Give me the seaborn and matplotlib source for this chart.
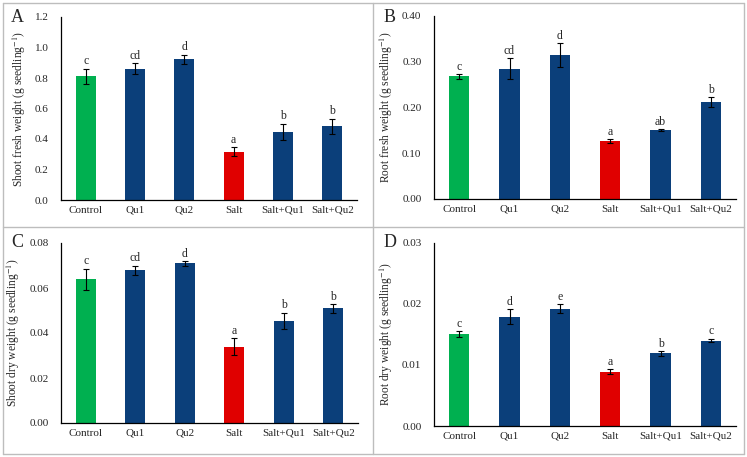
import numpy as np
import pandas as pd
import matplotlib
matplotlib.use("Agg")
import matplotlib.pyplot as plt
from matplotlib.lines import Line2D
import seaborn as sns

treatments = ["Control", "Qu1", "Qu2", "Salt", "Salt+Qu1", "Salt+Qu2"]

shoot_fw = [0.81, 0.862, 0.922, 0.318, 0.448, 0.485]
shoot_fw_err = [0.050, 0.036, 0.031, 0.028, 0.052, 0.049]
shoot_fw_lab = ["c", "cd", "d", "a", "b", "b"]

root_fw = [0.268, 0.285, 0.314, 0.126, 0.150, 0.211]
root_fw_err = [0.0047, 0.0225, 0.0265, 0.0044, 0.002, 0.011]
root_fw_lab = ["c", "cd", "d", "a", "ab", "b"]

shoot_dw = [0.0639, 0.0680, 0.0710, 0.0339, 0.0455, 0.0509]
shoot_dw_err = [0.0046, 0.0020, 0.0010, 0.0038, 0.0035, 0.0018]
shoot_dw_lab = ["c", "cd", "d", "a", "b", "b"]

root_dw = [0.0151, 0.01795, 0.01925, 0.0089, 0.0119, 0.0140]
root_dw_err = [0.00044, 0.0012, 0.0007, 0.0004, 0.0004, 0.0003]
root_dw_lab = ["c", "d", "e", "a", "b", "c"]

colors = ["#00B050", "#0B3F7A", "#0B3F7A", "#E00000", "#0B3F7A", "#0B3F7A"]

sns.set_style("white")
plt.rcParams["font.family"] = ["Liberation Serif", "DejaVu Serif"]
plt.rcParams["mathtext.fontset"] = "stix"

W, H = 747, 457
fig = plt.figure(figsize=(W / 100, H / 100), dpi=100)


def px_axes(left, right, top, bottom):
    return fig.add_axes([left / W, (H - bottom) / H, (right - left) / W, (bottom - top) / H])


panels = [
    ("A", px_axes(61, 357, 17, 200), shoot_fw, shoot_fw_err, shoot_fw_lab,
     "Shoot fresh weight (g seedling$^{-1}$)", 1.2, 0.2, "{:.1f}", (17, 18)),
    ("B", px_axes(434, 736, 16, 199), root_fw, root_fw_err, root_fw_lab,
     "Root fresh weight (g seedling$^{-1}$)", 0.40, 0.10, "{:.2f}", (390, 17)),
    ("C", px_axes(61, 358, 243, 423), shoot_dw, shoot_dw_err, shoot_dw_lab,
     "Shoot dry weight (g seedling$^{-1}$)", 0.08, 0.02, "{:.2f}", (17, 243)),
    ("D", px_axes(434, 736, 243, 426), root_dw, root_dw_err, root_dw_lab,
     "Root dry weight (g seedling$^{-1}$)", 0.03, 0.01, "{:.2f}", (390, 243)),
]

for letter, ax, vals, errs, labs, ylabel, ymax, step, fmt, pos in panels:
    df = pd.DataFrame({"treatment": treatments, "value": vals})
    sns.barplot(data=df, x="treatment", y="value", hue="treatment",
                palette=colors, width=0.4, legend=False, ax=ax,
                saturation=1, linewidth=0)
    ax.errorbar(np.arange(len(vals)), vals, yerr=errs, fmt="none",
                ecolor="black", elinewidth=0.8, capsize=2, capthick=0.8)
    for i, (v, e, t) in enumerate(zip(vals, errs, labs)):
        ax.annotate(t, (i, v + e), xytext=(0, 1), textcoords="offset points",
                    ha="center", va="bottom", fontsize=8.5)
    ax.set_xlim(-0.5, 5.5)
    ax.set_ylim(0, ymax)
    yt = np.arange(0, ymax + step / 2, step)
    ax.set_yticks(yt)
    ax.set_yticklabels([fmt.format(t) for t in yt], fontsize=8)
    ax.set_xticks(np.arange(-0.5, 6, 1.0))
    ax.set_xticklabels([])
    ax.set_xticks(np.arange(6), minor=True)
    ax.set_xticklabels(treatments, minor=True, fontsize=8)
    ax.tick_params(axis="x", which="major", direction="out", length=3, width=0.8, color="black")
    ax.tick_params(axis="x", which="minor", length=0, pad=4)
    ax.tick_params(axis="y", direction="out", length=3, width=0.8, color="black", pad=6)
    ax.set_xlabel("")
    ax.set_ylabel(ylabel, fontsize=8.3, labelpad=5)
    for s in ["top", "right"]:
        ax.spines[s].set_visible(False)
    for s in ["left", "bottom"]:
        ax.spines[s].set_color("black")
        ax.spines[s].set_linewidth(0.9)
    fig.text(pos[0] / W, 1 - pos[1] / H, letter, fontsize=13, ha="center", va="center")

# panel frames
gray = "#BDBDBD"
for xs, ys in [((3, 744), (3, 3)), ((3, 744), (454, 454)), ((3, 3), (3, 454)),
               ((744, 744), (3, 454)), ((373, 373), (3, 454)), ((3, 744), (227, 227))]:
    fig.add_artist(Line2D([x / W for x in xs], [1 - y / H for y in ys],
                          color=gray, linewidth=1.0))

fig.savefig("out.png", dpi=100)
